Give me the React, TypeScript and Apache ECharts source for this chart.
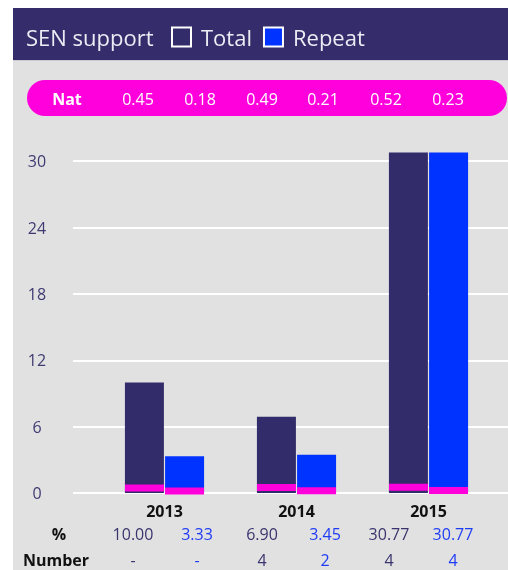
import React, { useEffect, useRef } from "react";
import * as echarts from "echarts";

const years = ["2013", "2014", "2015"];
const totalPct = [10.0, 6.9, 30.77];
const repeatPct = [3.33, 3.45, 30.77];
const natTotal = [0.45, 0.49, 0.52];
const natRepeat = [0.18, 0.21, 0.23];
const numberTotal = ["-", "4", "4"];
const numberRepeat = ["-", "2", "4"];
const yTicks = [0, 6, 12, 18, 24, 30];

const DARK = "#332c6b";
const BLUE = "#0033ff";
const PINK = "#ff00dd";
const FONT = "'Open Sans', 'Noto Sans', sans-serif";

export default function App() {
  const ref = useRef<HTMLDivElement>(null);
  useEffect(() => {
    if (!ref.current) return;
    const chart = echarts.init(ref.current, undefined, { renderer: "svg" });

    const natCols = [138, 200, 262, 323, 386, 448];
    const rowCols = [133, 197, 262, 325, 389, 453];
    const natVals: number[] = [];
    const pctVals: string[] = [];
    const numVals: string[] = [];
    const colColors: string[] = [];
    years.forEach((_, i) => {
      natVals.push(natTotal[i], natRepeat[i]);
      pctVals.push(totalPct[i].toFixed(2), repeatPct[i].toFixed(2));
      numVals.push(numberTotal[i], numberRepeat[i]);
      colColors.push("#3a346e", "#1f3cf5");
    });

    const graphics: any[] = [
      { type: "rect", z: -10, shape: { x: 13, y: 60, width: 495, height: 510 }, style: { fill: "#e1e1e1" } },
      { type: "rect", z: -10, shape: { x: 13, y: 8, width: 495, height: 52 }, style: { fill: "#342c6b" } },
      { type: "rect", z: -9, shape: { x: 13, y: 60, width: 495, height: 1 }, style: { fill: "#c9c9d2" } },
      {
        type: "text", z: 10, x: 26, y: 37,
        style: { text: "SEN support", fill: "#ececf4", font: `22px ${FONT}`, verticalAlign: "middle" },
      },
      { type: "rect", z: -8, shape: { x: 27, y: 80, width: 480, height: 36, r: 18 }, style: { fill: PINK } },
      {
        type: "text", z: 10, x: 67, y: 99,
        style: { text: "Nat", fill: "#ffffff", font: `bold 16px ${FONT}`, align: "center", verticalAlign: "middle" },
      },
      {
        type: "text", z: 10, x: 59, y: 534,
        style: { text: "%", fill: "#111111", font: `bold 16px ${FONT}`, align: "center", verticalAlign: "middle" },
      },
      {
        type: "text", z: 10, x: 23, y: 560,
        style: { text: "Number", fill: "#111111", font: `bold 16px ${FONT}`, align: "left", verticalAlign: "middle" },
      },
    ];
    natVals.forEach((v, i) => {
      graphics.push({
        type: "text", z: 10, x: natCols[i], y: 99,
        style: { text: v.toFixed(2), fill: "#ffffff", font: `16px ${FONT}`, align: "center", verticalAlign: "middle" },
      });
    });
    pctVals.forEach((v, i) => {
      graphics.push({
        type: "text", z: 10, x: rowCols[i], y: 534,
        style: { text: v, fill: colColors[i], font: `16px ${FONT}`, align: "center", verticalAlign: "middle" },
      });
    });
    numVals.forEach((v, i) => {
      graphics.push({
        type: "text", z: 10, x: rowCols[i], y: 560,
        style: { text: v, fill: colColors[i], font: `16px ${FONT}`, align: "center", verticalAlign: "middle" },
      });
    });

    const yMax = 32;
    const lineColors = yTicks.map(() => "#ffffff").concat(["rgba(0,0,0,0)"]);

    chart.setOption({
      animation: false,
      textStyle: { fontFamily: FONT },
      graphic: graphics,
      legend: {
        data: ["Total", "Repeat"],
        left: 171,
        top: 26,
        padding: 0,
        icon: "rect",
        itemWidth: 19,
        itemHeight: 19,
        itemGap: 11,
        itemStyle: { borderColor: "#ffffff", borderWidth: 2 },
        textStyle: { color: "#ececf4", fontSize: 22, fontFamily: FONT, padding: [0, 0, 0, 5] },
        selectedMode: false,
      },
      grid: [
        { left: 73, right: 0, top: 139, bottom: 77 },
        { left: 98.5, right: 13.5, top: 139, bottom: 77 },
      ],
      xAxis: [
        { type: "category", gridIndex: 0, data: years, show: false },
        {
          type: "category", gridIndex: 1, data: years,
          axisLine: { show: false }, axisTick: { show: false },
          axisLabel: { color: "#111111", fontWeight: "bold", fontSize: 16, margin: 10, fontFamily: FONT },
        },
      ],
      yAxis: [
        {
          type: "value", gridIndex: 0, min: 0, max: yMax, interval: 6,
          axisLine: { show: false }, axisTick: { show: false },
          axisLabel: { color: "#3f3a72", fontSize: 16, align: "center", margin: 36, showMaxLabel: false, fontFamily: FONT },
          splitLine: { show: true, lineStyle: { color: lineColors, width: 2 } },
        },
        {
          type: "value", gridIndex: 1, min: 0, max: yMax, interval: 6,
          show: false, splitLine: { show: false },
        },
      ],
      series: [
        {
          name: "Total", type: "bar", xAxisIndex: 1, yAxisIndex: 1,
          data: totalPct, barWidth: 39, barGap: "3%",
          itemStyle: { color: DARK }, z: 2,
        },
        {
          name: "Repeat", type: "bar", xAxisIndex: 1, yAxisIndex: 1,
          data: repeatPct, barWidth: 39, barGap: "3%",
          itemStyle: { color: BLUE }, z: 2,
        },
        {
          name: "NatTotal", type: "scatter", xAxisIndex: 1, yAxisIndex: 1,
          data: natTotal, symbol: "rect", symbolSize: [39, 7], symbolOffset: [-20, 0],
          itemStyle: { color: PINK, opacity: 1 }, z: 4, clip: false,
        },
        {
          name: "NatRepeat", type: "scatter", xAxisIndex: 1, yAxisIndex: 1,
          data: natRepeat, symbol: "rect", symbolSize: [39, 7], symbolOffset: [20, 0],
          itemStyle: { color: PINK, opacity: 1 }, z: 4, clip: false,
        },
      ],
    });
    return () => chart.dispose();
  }, []);
  return (
    <div
      ref={ref}
      style={{ position: "fixed", left: 0, top: 0, width: 508, height: 570 }}
    />
  );
}
